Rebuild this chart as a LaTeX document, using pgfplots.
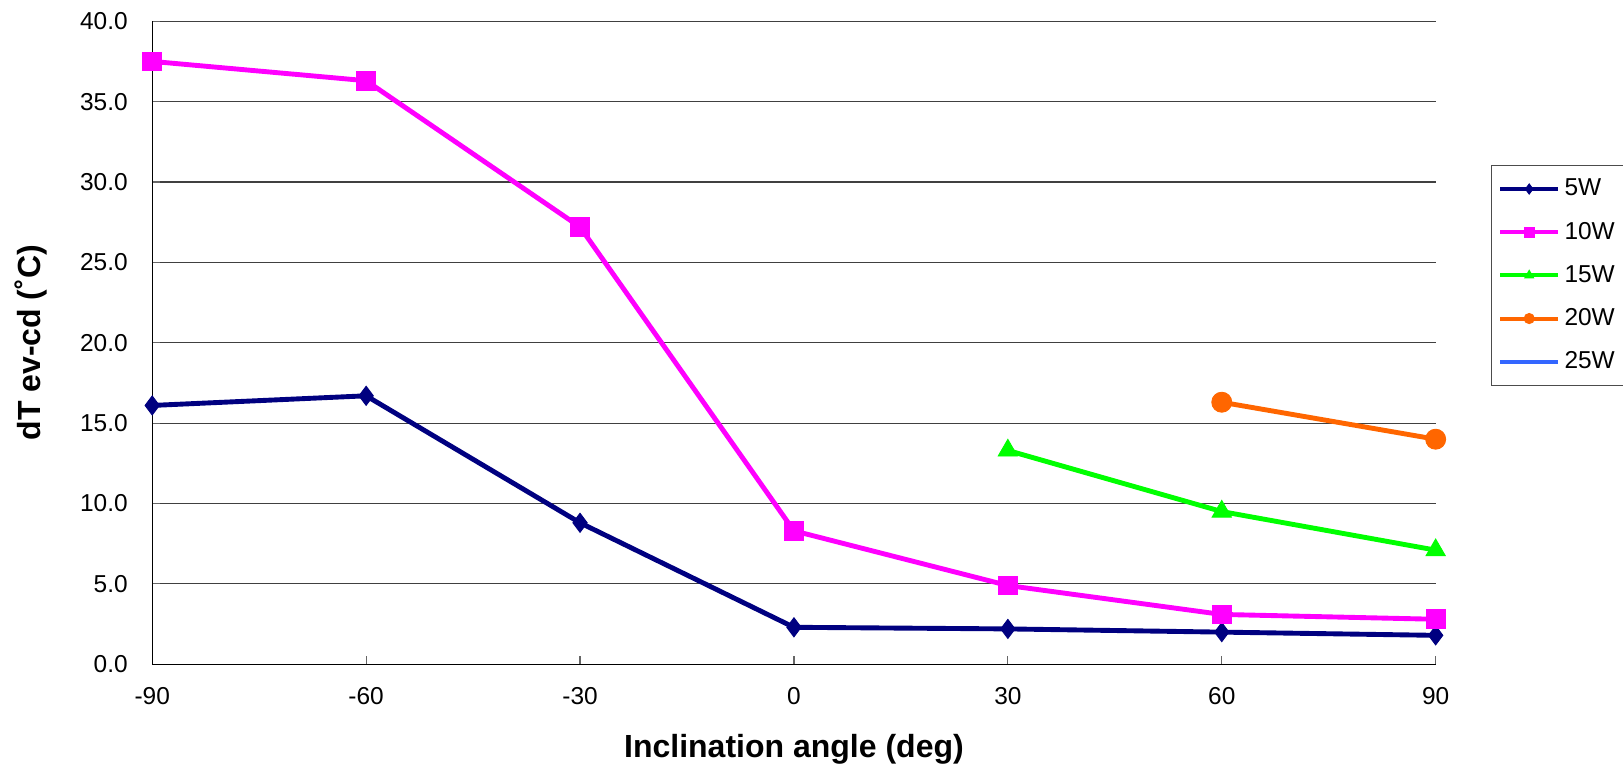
\documentclass[border=0pt]{standalone}
\usepackage{pgfplots}
\pgfplotsset{compat=1.18}
\usepackage{fontspec}
\setmainfont{Liberation Sans}
\definecolor{cNavy}{RGB}{0,0,128}
\definecolor{cMag}{RGB}{255,0,255}
\definecolor{cGreen}{RGB}{0,255,0}
\definecolor{cOrange}{RGB}{255,102,0}
\definecolor{cBlue}{RGB}{51,102,255}
\begin{document}
\begin{tikzpicture}
\begin{axis}[
  scale only axis,
  width=577.5pt, height=289.35pt,
  xmin=-90, xmax=90, ymin=0, ymax=40,
  clip=false,
  axis lines=left,
  axis line style={-, black, line width=0.6pt},
  xtick={-90,-60,-30,0,30,60,90},
  xticklabels={-90,-60,-30,0,30,60,90},
  ytick={0,5,10,15,20,25,30,35,40},
  yticklabels={0.0,5.0,10.0,15.0,20.0,25.0,30.0,35.0,40.0},
  tick align=inside,
  major tick length=3.6pt,
  tick style={black!60, line width=0.5pt},
  ymajorgrids,
  grid style={black!75, line width=0.5pt},
  ticklabel style={font=\fontsize{11}{13}\selectfont},
  xticklabel style={yshift=-7pt},
  yticklabel style={xshift=-7.5pt},
  every axis x label/.style={at={(axis description cs:0.5,-0.1317)}, anchor=center},
  every axis y label/.style={at={(axis description cs:-0.0943,0.5)}, anchor=center, rotate=90},
  xlabel={\fontsize{14.4}{17}\selectfont\bfseries Inclination angle (deg)},
  ylabel={\fontsize{14.4}{17}\selectfont\bfseries dT ev-cd (˚C)},
  legend style={at={(axis description cs:1.0431,0.7765)}, anchor=north west,
    draw=black!70, line width=0.6pt, font=\fontsize{11}{13}\selectfont,
    inner xsep=3pt, inner ysep=4pt, row sep=6.3pt},
  legend cell align=left,
  legend image code/.code={\draw[mark repeat=2,mark phase=2,line width=1.8pt,mark size=2.3pt] plot coordinates {(0pt,0pt)(13pt,0pt)(26pt,0pt)};},
]
\addplot[cNavy, line width=2.2pt, mark=diamond*, mark size=4.3pt, mark options={fill=cNavy, draw=cNavy, line width=0.4pt}]
  coordinates {(-90,16.1) (-60,16.7) (-30,8.8) (0,2.3) (30,2.2) (60,2.0) (90,1.8)};
\addlegendentry{5W}
\addplot[cMag, line width=2.2pt, mark=square*, mark size=4.2pt, mark options={fill=cMag, draw=cMag, line width=0.4pt}]
  coordinates {(-90,37.5) (-60,36.3) (-30,27.2) (0,8.3) (30,4.9) (60,3.1) (90,2.8)};
\addlegendentry{10W}
\addplot[cGreen, line width=2.2pt, mark=triangle*, mark size=5pt, mark options={fill=cGreen, draw=cGreen, line width=0.4pt}]
  coordinates {(30,13.3) (60,9.5) (90,7.1)};
\addlegendentry{15W}
\addplot[cOrange, line width=2.2pt, mark=*, mark size=4.5pt, mark options={fill=cOrange, draw=cOrange, line width=0.4pt}]
  coordinates {(60,16.3) (90,14.0)};
\addlegendentry{20W}
\addlegendimage{cBlue, line width=2.2pt}
\addlegendentry{25W}
\end{axis}
\pgfresetboundingbox
\path (-68.5pt,-47.6pt) rectangle (661.8pt,298.9pt);
\end{tikzpicture}
\end{document}
